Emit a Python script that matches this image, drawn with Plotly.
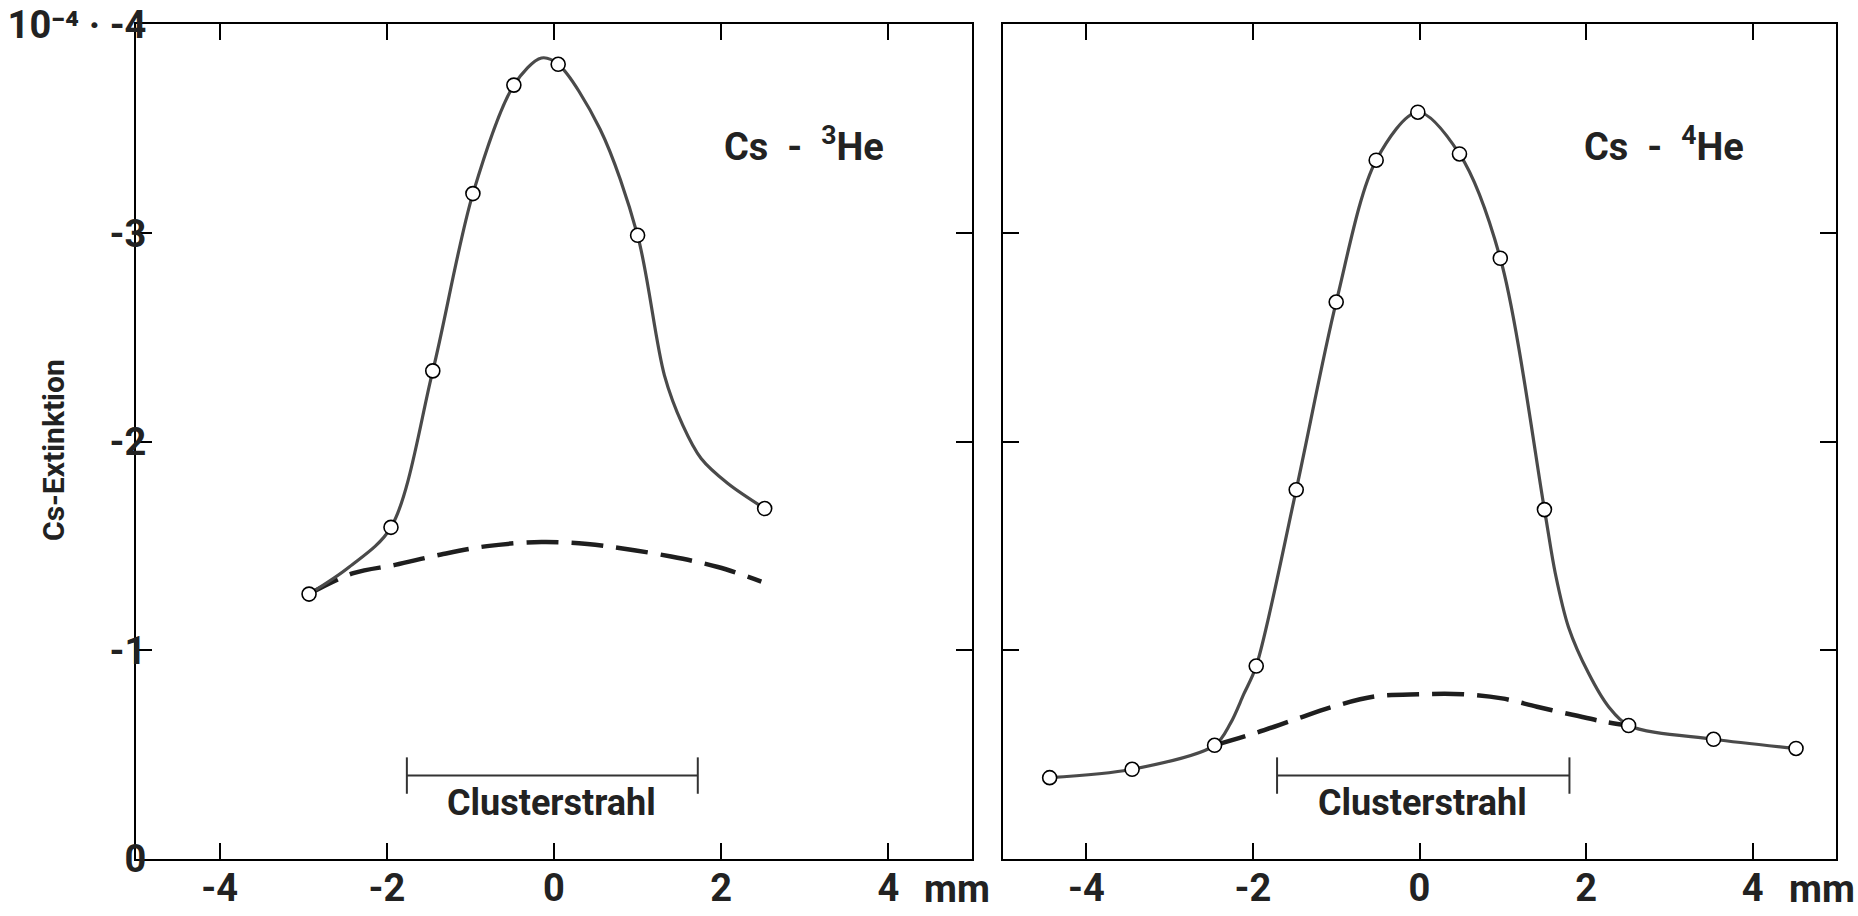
import plotly.graph_objects as go

# ---- data (units: 10^-4, extinction plotted as negative values) ----
# measured points, Cs - 3He
x_he3 = [-2.93, -1.95, -1.45, -0.97, -0.48, 0.05, 1.00, 2.52]
y_he3 = [-1.27, -1.59, -2.34, -3.19, -3.71, -3.81, -2.99, -1.68]
# drawn curve through them
x_he3_curve = [-2.93, -2.45, -1.95, -1.45, -0.97, -0.48, -0.15, 0.05, 0.55, 1.00, 1.32, 1.54, 1.76, 2.08, 2.52]
y_he3_curve = [-1.27, -1.40, -1.59, -2.34, -3.19, -3.71, -3.84, -3.81, -3.50, -2.99, -2.32, -2.08, -1.92, -1.80, -1.68]
# dashed baseline
x_he3_base = [-2.93, -2.40, -1.90, -1.35, -0.80, -0.15, 0.40, 0.80, 1.40, 1.96, 2.48]
y_he3_base = [-1.27, -1.37, -1.41, -1.46, -1.50, -1.52, -1.51, -1.49, -1.45, -1.40, -1.33]

# measured points, Cs - 4He
x_he4 = [-4.44, -3.45, -2.46, -1.96, -1.48, -1.00, -0.52, -0.02, 0.48, 0.97, 1.50, 2.51, 3.53, 4.52]
y_he4 = [-0.39, -0.43, -0.545, -0.925, -1.77, -2.67, -3.35, -3.58, -3.38, -2.88, -1.675, -0.64, -0.574, -0.53]
# drawn curve through them
x_he4_curve = [-4.44, -3.45, -2.46, -2.27, -2.11, -1.96, -1.48, -1.00, -0.52, -0.02, 0.48, 0.97, 1.50,
               1.63, 1.79, 2.03, 2.27, 2.51, 3.53, 4.52]
y_he4_curve = [-0.39, -0.43, -0.545, -0.65, -0.79, -0.925, -1.77, -2.67, -3.35, -3.58, -3.38, -2.88, -1.675,
               -1.37, -1.11, -0.89, -0.73, -0.64, -0.574, -0.53]
# dashed baseline
x_he4_base = [-2.46, -2.00, -1.52, -1.04, -0.52, 0.00, 0.52, 0.99, 1.41, 1.85, 2.23, 2.51]
y_he4_base = [-0.545, -0.60, -0.665, -0.73, -0.78, -0.79, -0.79, -0.77, -0.73, -0.69, -0.657, -0.64]

beam_left = [-1.76, 1.72]
beam_right = [-1.71, 1.80]
beam_y = -0.40
beam_label_y = -0.27

x_ticks = [-4, -2, 0, 2, 4]
x_ticktext = ["-4", "-2", "0", "2", "4"]
x_unit = "mm"
y_ticks = [0, -1, -2, -3, -4]
y_ticktext = ["0", "-1", "-2", "-3", "10⁻⁴ · -4"]

FONT = "Roboto, Liberation Sans, DejaVu Sans, sans-serif"
SOLID = "#4a4a4a"
TXT = "#222"

fig = go.Figure()

def add_panel(xa, ya, xs, ys, xc, yc, xb, yb, beam):
    fig.add_trace(go.Scatter(x=xb, y=yb, mode="lines", xaxis=xa, yaxis=ya,
                             line=dict(color="#1e1e1e", width=4.5, dash="32px,13px", shape="spline"),
                             showlegend=False, hoverinfo="skip"))
    fig.add_trace(go.Scatter(x=xc, y=yc, mode="lines", xaxis=xa, yaxis=ya,
                             line=dict(color=SOLID, width=3.2, shape="spline", smoothing=0.9),
                             showlegend=False, hoverinfo="skip"))
    fig.add_trace(go.Scatter(x=xs, y=ys, mode="markers", xaxis=xa, yaxis=ya,
                             marker=dict(size=14, color="white", line=dict(color="black", width=1.6)),
                             showlegend=False))
    fig.add_trace(go.Scatter(x=beam, y=[beam_y, beam_y], mode="lines+markers", xaxis=xa, yaxis=ya,
                             line=dict(color="#333", width=2),
                             marker=dict(symbol="line-ns-open", size=26, line=dict(color="#333", width=2)),
                             showlegend=False, hoverinfo="skip"))

add_panel("x", "y", x_he3, y_he3, x_he3_curve, y_he3_curve, x_he3_base, y_he3_base, beam_left)
add_panel("x2", "y2", x_he4, y_he4, x_he4_curve, y_he4_curve, x_he4_base, y_he4_base, beam_right)

axis_common = dict(showline=True, linecolor="black", linewidth=2, mirror="ticks",
                   ticks="inside", ticklen=16, tickwidth=1.5, tickcolor="black",
                   showgrid=False, zeroline=False, automargin=False, ticklabeloverflow="allow",
                   tickfont=dict(family=FONT, size=38, color=TXT, weight="bold"))

fig.update_layout(
    width=1858, height=916,
    margin=dict(l=0, r=0, t=0, b=0, autoexpand=False),
    paper_bgcolor="white", plot_bgcolor="white",
    xaxis=dict(domain=[136/1858, 972/1858], range=[-5, 5], tickvals=x_ticks, ticktext=x_ticktext,
               anchor="y", ticklabelstandoff=-6, **axis_common),
    yaxis=dict(domain=[1-859/916, 1-24/916], range=[0, -4.003], tickvals=y_ticks, ticktext=y_ticktext,
               anchor="x", ticklabelstandoff=-20, **axis_common),
    xaxis2=dict(domain=[1003/1858, 1836/1858], range=[-5, 5], tickvals=x_ticks, ticktext=x_ticktext,
                anchor="y2", ticklabelstandoff=-6, **axis_common),
    yaxis2=dict(domain=[1-859/916, 1-24/916], range=[0, -4.003], tickvals=y_ticks, showticklabels=False,
                anchor="x2", **axis_common),
)

ann_font = dict(family=FONT, size=38, color=TXT, weight="bold")
fig.add_annotation(x=2.99, y=-3.43, xref="x", yref="y", text="Cs  -  <sup>3</sup>He",
                   showarrow=False, xanchor="center", font=ann_font)
fig.add_annotation(x=2.94, y=-3.43, xref="x2", yref="y2", text="Cs  -  <sup>4</sup>He",
                   showarrow=False, xanchor="center", font=ann_font)
for xr, yr, xv in (("x", "y", -0.03), ("x2", "y2", 0.03)):
    fig.add_annotation(x=xv, y=beam_label_y, xref=xr, yref=yr, text="Clusterstrahl",
                       showarrow=False, xanchor="center",
                       font=dict(family=FONT, size=36, color=TXT, weight="bold"))
fig.add_annotation(x=53/1858, y=1-450/916, xref="paper", yref="paper", text="Cs-Extinktion",
                   textangle=-90, showarrow=False, xanchor="center", yanchor="middle",
                   font=dict(family=FONT, size=30, color=TXT, weight="bold"))
for xr in ("x", "x2"):
    fig.add_annotation(x=x_ticks[-1], y=1-889/916, xref=xr, yref="paper", text=x_unit,
                       xanchor="left", yanchor="middle", xshift=34, showarrow=False,
                       font=dict(family=FONT, size=38, color=TXT, weight="bold"))

fig.write_html("out.html", config={"displayModeBar": False},
               post_script="document.body.style.margin='0';")
